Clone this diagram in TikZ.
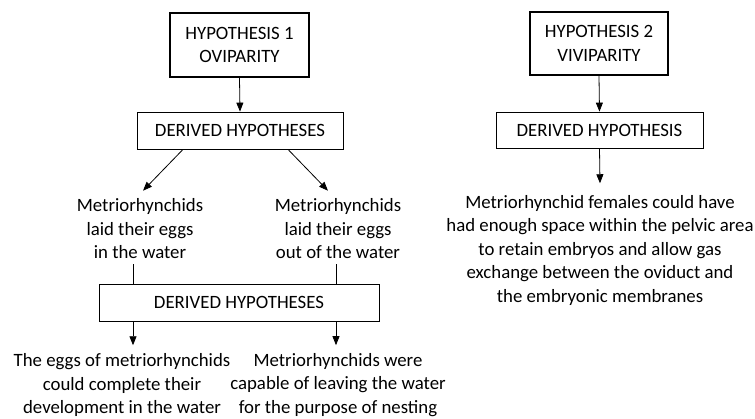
\documentclass[tikz,border=0pt]{standalone}
\usepackage{fontspec}
\setmainfont{Carlito}
\usetikzlibrary{arrows.meta,calc}
\begin{document}
\begin{tikzpicture}[x=1pt,y=-1pt,
  txt/.style={font=\fontsize{18.8}{23.5}\selectfont, align=center, inner sep=0pt},
  hypbox/.style={txt, draw, line width=2pt, minimum width=139pt, minimum height=64pt},
  derbox/.style={txt, draw, line width=0.8pt, minimum height=37pt},
  arr/.style={line width=0.8pt, -{Triangle[length=9pt,width=7pt]}},
  ln/.style={line width=0.8pt}]
\useasboundingbox (0,0) rectangle (755,418);
\node[hypbox] (h1) at (239.5,45) {HYPOTHESIS 1\\OVIPARITY};
\node[derbox, minimum width=206pt] (d1) at (240,130.5) {DERIVED HYPOTHESES};
\node[txt] (t1) at (140,229) {Metriorhynchids\\laid their eggs\\in the water};
\node[txt] (t2) at (338,229) {Metriorhynchids\\laid their eggs\\out of the water};
\node[derbox, minimum width=280pt] (d2) at (239,302.5) {DERIVED HYPOTHESES};
\node[txt] (b1) at (122,385) {The eggs of metriorhynchids\\could complete their\\development in the water};
\node[txt] (b2) at (338,385) {Metriorhynchids were\\capable of leaving the water\\for the purpose of nesting};
\node[hypbox, minimum width=138pt, minimum height=63pt] (h2) at (599,43.5) {HYPOTHESIS 2\\VIVIPARITY};
\node[derbox, minimum width=207pt, minimum height=36pt] (d3) at (599.5,130) {DERIVED HYPOTHESIS};
\node[txt] (r) at (600,250) {Metriorhynchid females could have\\had enough space within the pelvic area\\to retain embryos and allow gas\\exchange between the oviduct and\\the embryonic membranes};

\draw[arr] (h1.south) -- (d1.north);
\draw[arr] ([xshift=-57pt]d1.south) -- ([xshift=3pt,yshift=8pt]t1.north);
\draw[arr] ([xshift=48pt]d1.south) -- ([xshift=-10pt,yshift=8pt]t2.north);
\draw[ln] ([xshift=-7pt,yshift=-5pt]t1.south) -- ([xshift=-7pt]t1.south |- d2.north);
\draw[ln] ([xshift=-2pt,yshift=-5pt]t2.south) -- ([xshift=-2pt]t2.south |- d2.north);
\draw[arr] ([xshift=-106pt]d2.south) -- ([xshift=11pt,yshift=8pt]b1.north);
\draw[arr] ([xshift=97pt]d2.south) -- ([xshift=-2pt,yshift=8pt]b2.north);
\draw[arr] (h2.south) -- (d3.north);
\draw[arr] (d3.south) -- ([yshift=11.5pt]r.north);
\end{tikzpicture}
\end{document}
